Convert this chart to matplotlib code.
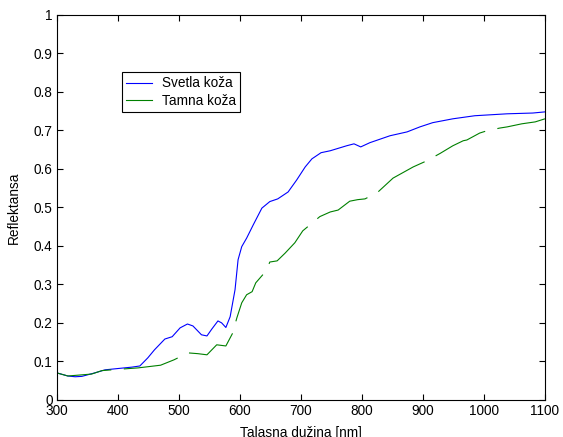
import numpy as np
import matplotlib
matplotlib.use("Agg")
import matplotlib.pyplot as plt

# =========================
# DATA
# =========================
light_nm = [300, 318, 330, 341, 362, 379, 423, 436, 449, 460, 477, 489, 502, 514,
            523, 537, 546, 554, 564, 570, 577, 584, 592, 597, 603, 611, 622, 636,
            649, 662, 679, 693, 707, 718, 733, 748, 775, 787, 798, 813, 846, 874,
            895, 916, 949, 985, 1038, 1080, 1100]
light_refl = [0.070, 0.062, 0.060, 0.061, 0.070, 0.078, 0.085, 0.088, 0.109, 0.130,
              0.158, 0.164, 0.187, 0.197, 0.192, 0.169, 0.166, 0.184, 0.205, 0.200,
              0.188, 0.216, 0.286, 0.364, 0.398, 0.420, 0.455, 0.498, 0.515, 0.522,
              0.540, 0.571, 0.605, 0.626, 0.642, 0.647, 0.660, 0.665, 0.657, 0.668,
              0.686, 0.696, 0.709, 0.720, 0.730, 0.738, 0.743, 0.745, 0.748]

dark_nm = [300, 318, 357, 374, 407, 433, 470, 492, 515, 531, 546, 562, 577, 588,
           595, 603, 611, 620, 626, 643, 649, 661, 674, 690, 703, 731, 748, 761,
           780, 793, 805, 825, 851, 884, 905, 928, 949, 966, 972, 993, 1005, 1026,
           1038, 1062, 1084, 1100]
dark_refl = [0.070, 0.062, 0.067, 0.076, 0.080, 0.083, 0.090, 0.104, 0.122, 0.120,
             0.117, 0.143, 0.140, 0.173, 0.213, 0.252, 0.273, 0.281, 0.304, 0.335,
             0.358, 0.361, 0.381, 0.408, 0.439, 0.476, 0.488, 0.493, 0.516, 0.520,
             0.522, 0.538, 0.576, 0.605, 0.620, 0.640, 0.660, 0.673, 0.675, 0.693,
             0.699, 0.706, 0.709, 0.717, 0.722, 0.730]

x_ticks = [300, 400, 500, 600, 700, 800, 900, 1000, 1100]
y_ticks = [0, 0.1, 0.2, 0.3, 0.4, 0.5, 0.6, 0.7, 0.8, 0.9, 1]
y_tick_labels = ["0", "0.1", "0.2", "0.3", "0.4", "0.5", "0.6", "0.7", "0.8", "0.9", "1"]

# =========================
# STYLE
# =========================
FONT_SIZE = 9.8
plt.rcParams["font.family"] = ["Liberation Sans", "DejaVu Sans"]
plt.rcParams["font.size"] = FONT_SIZE
plt.rcParams["lines.scale_dashes"] = False

fig = plt.figure(figsize=(5.63, 4.37), dpi=100)
ax = fig.add_axes([0.101, 0.085, 0.867, 0.881])

ax.plot(light_nm, light_refl, color="#0000ff", linewidth=0.8, label="Svetla koža")
ax.plot(dark_nm, dark_refl, color="#008000", linewidth=0.8,
        linestyle=(0, (40, 9)), label="Tamna koža")

ax.set_xlim(300, 1100)
ax.set_ylim(0, 1)
ax.set_xticks(x_ticks)
ax.set_yticks(y_ticks)
ax.set_yticklabels(y_tick_labels)
ax.tick_params(direction="in", top=True, right=True, length=4, width=0.8,
               labelsize=FONT_SIZE)
ax.tick_params(axis="x", pad=3)
ax.tick_params(axis="y", pad=3)
for spine in ax.spines.values():
    spine.set_linewidth(0.8)

ax.set_xlabel("Talasna dužina [nm]", fontsize=FONT_SIZE, labelpad=6)
ax.set_ylabel("Reflektansa", fontsize=FONT_SIZE, labelpad=9)

leg = ax.legend(loc="upper left", bbox_to_anchor=(0.133, 0.851), fontsize=FONT_SIZE,
                fancybox=False, framealpha=1, edgecolor="black",
                handlelength=1.9, handletextpad=0.75, borderpad=0.3,
                labelspacing=0.25, borderaxespad=0)
leg.get_frame().set_linewidth(0.8)
for line in leg.get_lines():
    line.set_linestyle("-")

fig.savefig("out.png", dpi=100)
